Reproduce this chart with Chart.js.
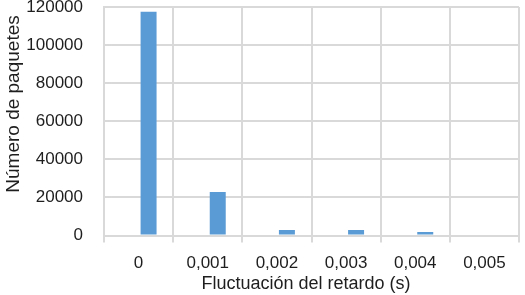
<!DOCTYPE html>
<html>
<head>
<meta charset="utf-8">
<script src="https://cdn.jsdelivr.net/npm/chart.js@4/dist/chart.umd.min.js"></script>
<style>
  html, body { margin: 0; padding: 0; background: #fff; }
  #wrap { width: 525px; height: 295px; }
</style>
</head>
<body>
<div id="wrap"><canvas id="myChart" width="525" height="295"></canvas></div>
<script>
// values
const categories = ['0', '0,001', '0,002', '0,003', '0,004', '0,005'];
const packets = [117500, 22800, 2900, 2900, 1800, 0];
const emptySeries = [null, null, null, null, null, null];
const yTicks = [0, 20000, 40000, 60000, 80000, 100000, 120000];
const yTitle = 'Número de paquetes';
const xTitle = 'Fluctuación del retardo (s)';

const gridColor = '#d9d9d9';
const textColor = '#1e1e1e';
const fontFamily = "'Liberation Sans', Arial, sans-serif";

// axis titles drawn by hand so they sit where the reference has them
const axisTitles = {
    id: 'axisTitles',
    afterDraw(chart) {
        const c = chart.ctx;
        c.save();
        c.fillStyle = textColor;
        c.textAlign = 'center';
        c.textBaseline = 'middle';
        c.font = '18px ' + fontFamily;
        c.fillText(xTitle, 306, 284);
        c.font = '19px ' + fontFamily;
        c.translate(14, 104);
        c.rotate(-Math.PI / 2);
        c.fillText(yTitle, 0, 0);
        c.restore();
    }
};

document.addEventListener('DOMContentLoaded', function () {
    const ctx = document.getElementById('myChart').getContext('2d');
    new Chart(ctx, {
        type: 'bar',
        data: {
            labels: categories,
            datasets: [{
                label: '',
                data: emptySeries,
                backgroundColor: 'rgba(0,0,0,0)'
            }, {
                label: yTitle,
                data: packets,
                backgroundColor: '#5b9bd5',
                borderWidth: 0
            }]
        },
        options: {
            responsive: false,
            animation: false,
            categoryPercentage: 0.578,
            barPercentage: 0.8,
            layout: { padding: { top: 7, right: 6, left: 0, bottom: 0 } },
            plugins: {
                legend: { display: false },
                tooltip: { enabled: false }
            },
            scales: {
                x: {
                    grid: {
                        color: gridColor,
                        lineWidth: 2,
                        offset: true,
                        drawTicks: true,
                        tickLength: 7
                    },
                    border: { color: gridColor, width: 2 },
                    ticks: {
                        color: textColor,
                        font: { family: fontFamily, size: 17 },
                        padding: 11,
                        maxRotation: 0
                    },
                    afterFit(scale) {
                        scale.height = 59.5;
                        scale.paddingLeft = 0;
                        scale.paddingRight = 0;
                    }
                },
                y: {
                    min: 0,
                    max: 120000,
                    afterBuildTicks(scale) {
                        scale.ticks = yTicks.map(v => ({ value: v }));
                    },
                    grid: {
                        color: gridColor,
                        lineWidth: 2,
                        drawTicks: false
                    },
                    border: { color: gridColor, width: 2 },
                    ticks: {
                        color: textColor,
                        font: { family: fontFamily, size: 17 },
                        padding: 21,
                        callback: (v) => String(v)
                    },
                    afterFit(scale) {
                        scale.width = 104;
                        scale.paddingTop = 0;
                        scale.paddingBottom = 0;
                    }
                }
            }
        },
        plugins: [axisTitles]
    });
});
</script>
</body>
</html>
